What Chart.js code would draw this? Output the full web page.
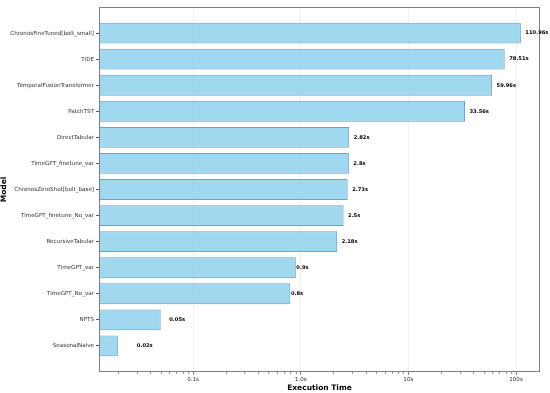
<!DOCTYPE html>
<html>
<head>
<meta charset="utf-8">
<script src="https://cdn.jsdelivr.net/npm/chart.js@4"></script>
<style>
    html, body { margin: 0; padding: 0; background: #fff; }
</style>
</head>
<body>
<canvas id="timeChart" width="550" height="393"></canvas>
<script>
const models = [
    'ChronosFineTuned[bolt_small]', 'TiDE', 'TemporalFusionTransformer', 'PatchTST',
    'DirectTabular', 'TimeGPT_finetune_var', 'ChronosZeroShot[bolt_base]',
    'TimeGPT_finetune_No_var', 'RecursiveTabular', 'TimeGPT_var', 'TimeGPT_No_var',
    'NPTS', 'SeasonalNaive'
];
const execTimes = [110.96, 78.51, 59.96, 33.56, 2.82, 2.8, 2.73, 2.5, 2.18, 0.9, 0.8, 0.05, 0.02];
const majorTicks = [0.1, 1, 10, 100];
const majorLabels = ['0.1s', '1.0s', '10s', '100s'];

const FONT = '"DejaVu Sans", sans-serif';

// minor log ticks between the majors
const minorTicks = [];
[0.01, 0.1, 1, 10, 100].forEach(base => {
    for (let m = 2; m <= 9; m++) minorTicks.push(base * m);
});

function formatTime(v) {
    return String(v) + 's';
}

const extrasPlugin = {
    id: 'extras',
    afterDraw(chart) {
        const ctx = chart.ctx;
        const area = chart.chartArea;
        const xs = chart.scales.x;
        const ys = chart.scales.y;
        ctx.save();

        // minor tick marks
        ctx.strokeStyle = '#555';
        ctx.lineWidth = 0.6;
        minorTicks.forEach(v => {
            if (v < xs.min || v > xs.max) return;
            const px = Math.round(xs.getPixelForValue(v)) + 0.5;
            ctx.beginPath();
            ctx.moveTo(px, area.bottom);
            ctx.lineTo(px, area.bottom + 2);
            ctx.stroke();
        });

        // frame
        ctx.strokeStyle = '#7f7f7f';
        ctx.lineWidth = 1;
        ctx.strokeRect(area.left + 0.5, area.top + 0.5, area.right - area.left - 1, area.bottom - area.top - 1);

        // value labels
        ctx.fillStyle = '#000';
        ctx.font = 'bold 5.2px ' + FONT;
        ctx.textAlign = 'left';
        ctx.textBaseline = 'middle';
        execTimes.forEach((v, i) => {
            const pos = v > 1 ? v * 1.1 : v + 0.01;
            ctx.fillText(formatTime(v), xs.getPixelForValue(pos), ys.getPixelForValue(i));
        });
        ctx.restore();
    }
};

const ctx = document.getElementById('timeChart').getContext('2d');

new Chart(ctx, {
    type: 'bar',
    data: {
        datasets: [{
            label: 'Execution Time',
            data: execTimes.map((v, i) => ({ x: v, y: i })),
            backgroundColor: 'rgba(135, 206, 235, 0.8)',
            borderColor: '#6f9fcf',
            borderWidth: 1,
            borderSkipped: false,
            categoryPercentage: 1,
            barPercentage: 0.8
        }]
    },
    options: {
        indexAxis: 'y',
        responsive: false,
        animation: false,
        devicePixelRatio: 1,
        layout: { padding: { left: 0, right: 10, top: 7, bottom: 0 } },
        plugins: {
            legend: { display: false },
            tooltip: { enabled: false }
        },
        scales: {
            x: {
                type: 'logarithmic',
                min: 0.01336,
                max: 167,
                afterBuildTicks: scale => {
                    scale.ticks = majorTicks.map(v => ({ value: v }));
                },
                afterFit: scale => { scale.height = 21; },
                ticks: {
                    autoSkip: false,
                    maxRotation: 0,
                    padding: 1,
                    color: '#333',
                    font: { family: FONT, size: 5.6 },
                    callback: (v) => majorLabels[majorTicks.indexOf(v)] || ''
                },
                grid: {
                    color: '#e8e8e8',
                    lineWidth: 0.7,
                    tickColor: '#555',
                    tickLength: 3
                },
                border: { display: false },
                title: {
                    display: true,
                    text: 'Execution Time',
                    color: '#000',
                    font: { family: FONT, size: 7.5, weight: 'bold' },
                    padding: { top: 0, bottom: 0 }
                }
            },
            y: {
                type: 'linear',
                reverse: true,
                offset: false,
                min: -1,
                max: models.length,
                afterBuildTicks: scale => {
                    scale.ticks = models.map((m, i) => ({ value: i }));
                },
                afterFit: scale => { scale.width = 99; },
                ticks: {
                    autoSkip: false,
                    padding: 2,
                    color: '#333',
                    font: { family: FONT, size: 5.6 },
                    callback: (v) => models[v] || ''
                },
                grid: {
                    display: true,
                    offset: false,
                    drawOnChartArea: false,
                    tickColor: '#555',
                    tickLength: 3
                },
                border: { display: false },
                title: {
                    display: true,
                    text: 'Model',
                    color: '#000',
                    font: { family: FONT, size: 7.5, weight: 'bold' },
                    padding: { top: 0, bottom: 0 }
                }
            }
        }
    },
    plugins: [extrasPlugin]
});
</script>
</body>
</html>
